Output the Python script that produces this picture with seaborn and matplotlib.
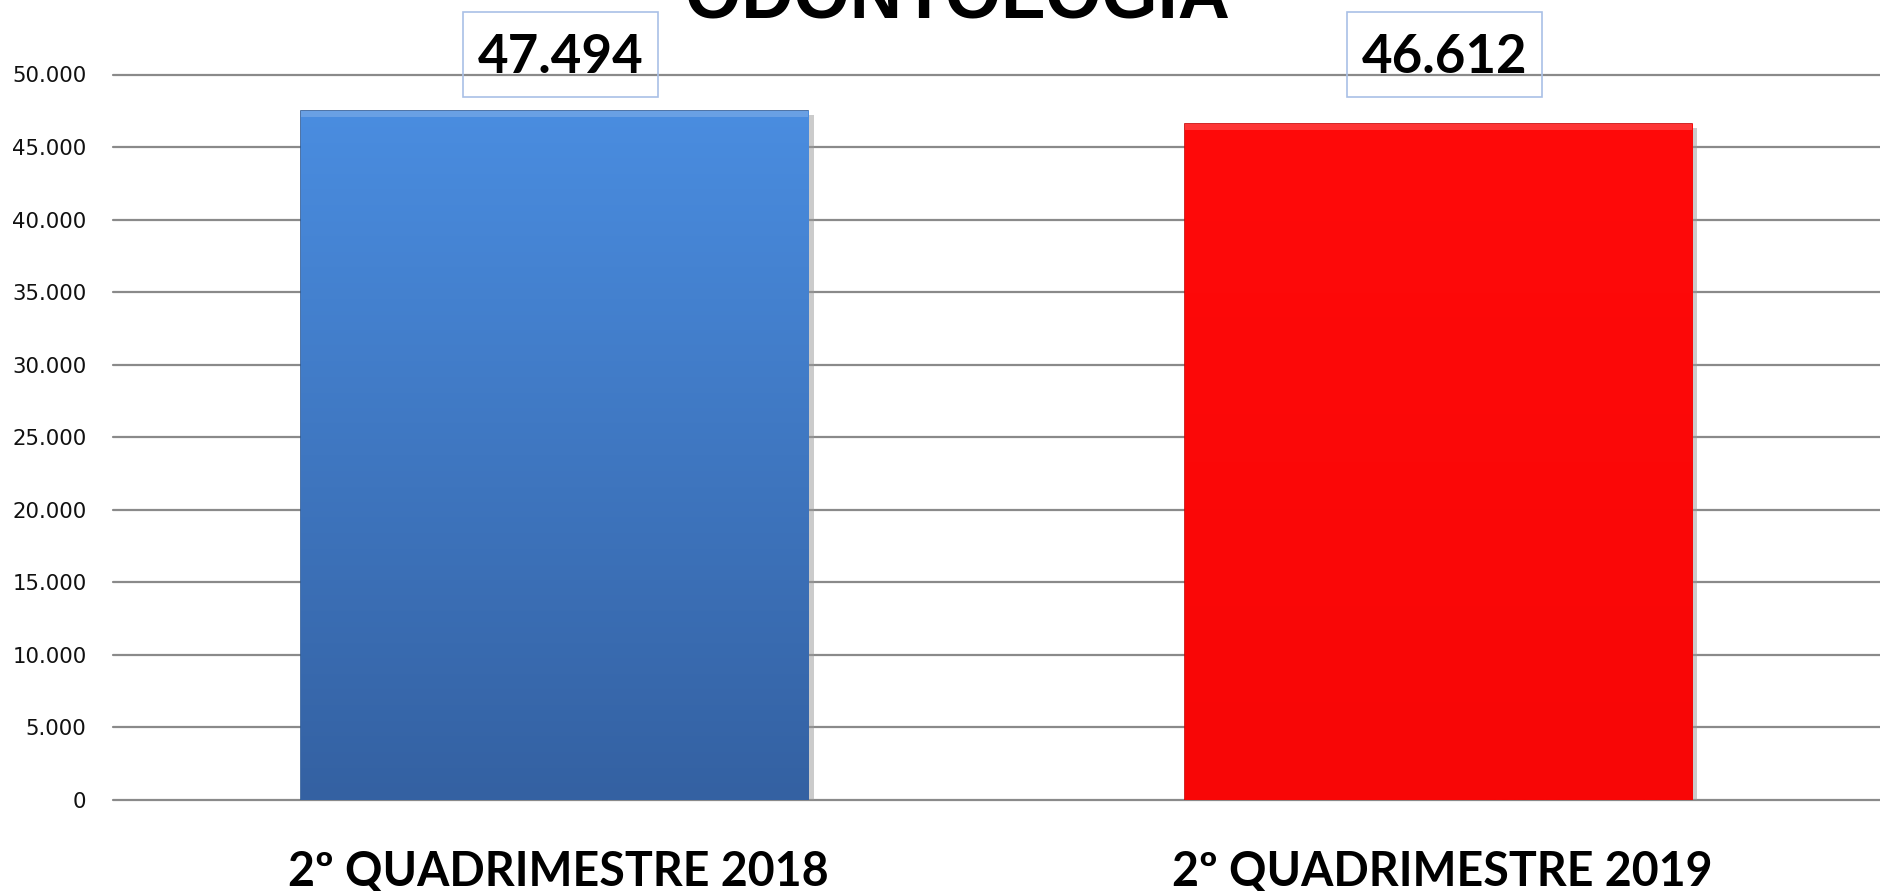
import numpy as np
import matplotlib
matplotlib.use("Agg")
import matplotlib.pyplot as plt
import seaborn as sns
import pandas as pd
from matplotlib.colors import LinearSegmentedColormap
from matplotlib.patches import Rectangle
from matplotlib.transforms import IdentityTransform

categories = ["2º QUADRIMESTRE 2018", "2º QUADRIMESTRE 2019"]
values = [47494, 46612]
value_labels = ["47.494", "46.612"]
yticks = [0, 5000, 10000, 15000, 20000, 25000, 30000, 35000, 40000, 45000, 50000]
ytick_labels = ["0", "5.000", "10.000", "15.000", "20.000", "25.000", "30.000",
                "35.000", "40.000", "45.000", "50.000"]
title = "ODONTOLOGIA"

sns.set_theme(style="white")
plt.rcParams["font.family"] = ["DejaVu Sans"]

W, H, DPI = 1880, 891, 100
fig = plt.figure(figsize=(W / DPI, H / DPI), dpi=DPI)
ax = fig.add_axes([113 / W, 91 / H, 1 - 113 / W, (800 - 74.5) / H])

df = pd.DataFrame({"cat": categories, "val": values})
sns.barplot(data=df, x="cat", y="val", hue="cat", palette=["#3f7fd0", "#ff0707"],
            width=0.574, ax=ax, legend=False, zorder=3, saturation=1)

ax.set_xlim(-0.5, 1.5)
ax.set_ylim(0, 50000)
ax.set_yticks(yticks)
ax.set_yticklabels(ytick_labels, fontsize=15.3, color="#111111")
ax.tick_params(axis="y", length=0, pad=19)
ax.set_xticks([])
ax.set_xlabel("")
ax.set_ylabel("")
for s in ax.spines.values():
    s.set_visible(False)
for t in yticks:
    ax.axhline(t, color="#8a8a8a", lw=1.6, zorder=1, clip_on=False)

# gradient fills
grads = [
    LinearSegmentedColormap.from_list("b", ["#3461a2", "#4a8de0"]),
    LinearSegmentedColormap.from_list("r", ["#f80606", "#ff0a0a"]),
]
edge_cols = ["#2d5a96", "#c80000"]
for patch, cmap, ec in zip(ax.patches, grads, edge_cols):
    x0, y0 = patch.get_x(), patch.get_y()
    w, h = patch.get_width(), patch.get_height()
    grad = np.linspace(0, 1, 256).reshape(-1, 1)
    im = ax.imshow(grad, cmap=cmap, origin="lower", aspect="auto",
                   extent=[x0, x0 + w, y0, y0 + h], zorder=4)
    im.set_clip_path(patch)
    patch.set_edgecolor(ec)
    patch.set_linewidth(1.2)
    ax.fill_between([x0, x0 + w], y0 + h - 450, y0 + h, color="white", alpha=0.18,
                    zorder=5, lw=0)
    ax.fill_between([x0 + w, x0 + w + 0.006], 0, y0 + h - 300, color="#999999",
                    alpha=0.5, zorder=2, lw=0)

# value labels with box
label_y = 51150
for i, (lab, v) in enumerate(zip(value_labels, values)):
    ax.text(i + 0.007, label_y, lab, ha="center", va="center", fontsize=38,
            fontweight="bold", family=["Lato", "DejaVu Sans"], color="black",
            zorder=6, clip_on=False)
    px, py = ax.transData.transform((i + 0.007, label_y))
    bw, bh = 195, 85
    rect = Rectangle((px - bw / 2, py - bh / 2 + 3.5), bw, bh, transform=IdentityTransform(),
                     fc="none", ec="#a9c0e6", lw=1.2, zorder=6, clip_on=False)
    fig.add_artist(rect)

# category labels
for i, c in enumerate(categories):
    ax.text(i + 0.004, -4950, c, ha="center", va="center", fontsize=33.5, fontweight="bold",
            family=["Lato", "DejaVu Sans"], color="black", clip_on=False)

fig.text(957 / W, 1 - 17 / H, title, ha="center", va="baseline", fontsize=52,
         fontweight="bold", family=["Liberation Sans", "DejaVu Sans"], color="black")

fig.savefig("out.png", dpi=DPI, facecolor="white")
